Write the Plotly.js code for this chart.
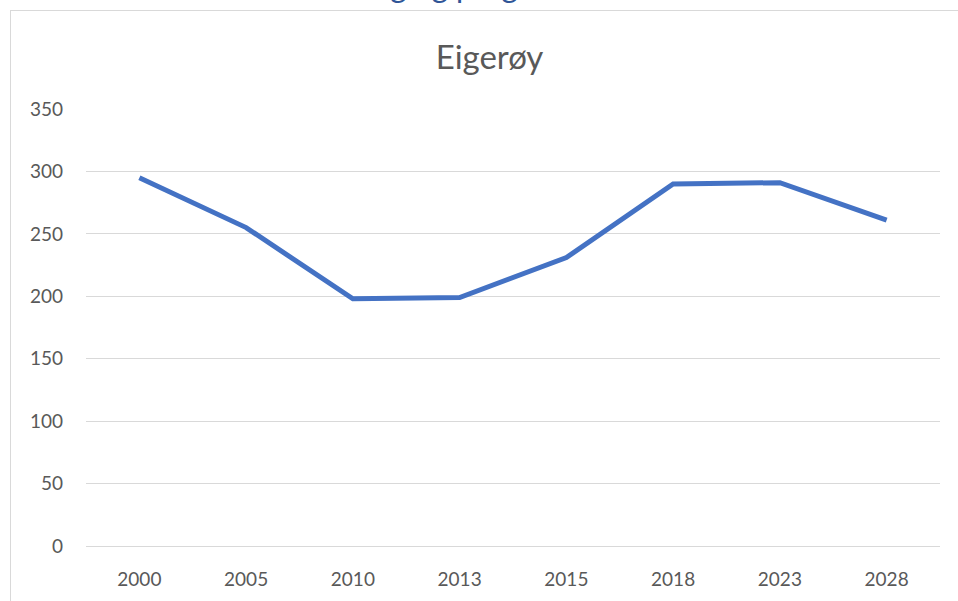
<!DOCTYPE html>
<html>
<head>
<meta charset="utf-8">
<script src="https://cdn.plot.ly/plotly-3.0.1.min.js"></script>
<style>
  html, body { margin: 0; padding: 0; background: #ffffff; overflow: hidden; }
  #chart { position: absolute; left: 0; top: 0; width: 958px; height: 601px; }
  #frame { position: absolute; left: 10px; top: 10px; width: 1000px; height: 700px;
           border-left: 1px solid #d9d9d9; border-top: 1px solid #d9d9d9; pointer-events: none; }
</style>
</head>
<body>
<div id="chart"></div>
<div id="frame"></div>
<script>
const chartTitle = "Eigerøy";
const headerText = "Elevtallsutvikling og prognose";
const years = ["2000", "2005", "2010", "2013", "2015", "2018", "2023", "2028"];
const values = [295, 255, 198, 199, 231, 290, 291, 261];
const yTicks = [0, 50, 100, 150, 200, 250, 300, 350];

const fontFam = "Lato, 'Open Sans', sans-serif";
const trace = {
  x: years,
  y: values,
  type: "scatter",
  mode: "lines",
  line: { color: "#4472C4", width: 5 },
  hoverinfo: "x+y"
};

const layout = {
  width: 958,
  height: 601,
  margin: { l: 86, r: 18, t: 109, b: 55 },
  paper_bgcolor: "rgba(0,0,0,0)",
  plot_bgcolor: "rgba(0,0,0,0)",
  showlegend: false,
  title: {
    text: chartTitle,
    font: { family: fontFam, size: 33, color: "#595959" },
    x: 0.511, xanchor: "center",
    y: 1 - 57 / 601, yanchor: "middle"
  },
  xaxis: {
    type: "category",
    range: [-0.5, years.length - 0.5],
    showgrid: false,
    zeroline: false,
    showline: false,
    ticks: "",
    ticklabelstandoff: 20,
    tickfont: { family: fontFam, size: 19, color: "#595959" }
  },
  yaxis: {
    range: [0, 350],
    tickvals: yTicks,
    ticktext: yTicks.map(String),
    showgrid: true,
    gridcolor: "#d9d9d9",
    gridwidth: 1,
    zeroline: true,
    zerolinecolor: "#d9d9d9",
    zerolinewidth: 1,
    showline: false,
    ticks: "",
    ticklabelstandoff: 22,
    tickfont: { family: fontFam, size: 19, color: "#595959" }
  },
  annotations: [{
    text: headerText,
    xref: "paper", yref: "paper",
    x: (584 - 86) / 854, xanchor: "right",
    y: 1 + (109 - 6.5) / 437, yanchor: "bottom",
    showarrow: false,
    font: { family: fontFam, size: 31, color: "#2F5597" }
  }]
};

Plotly.newPlot("chart", [trace], layout, { displayModeBar: false, staticPlot: true });
</script>
</body>
</html>
